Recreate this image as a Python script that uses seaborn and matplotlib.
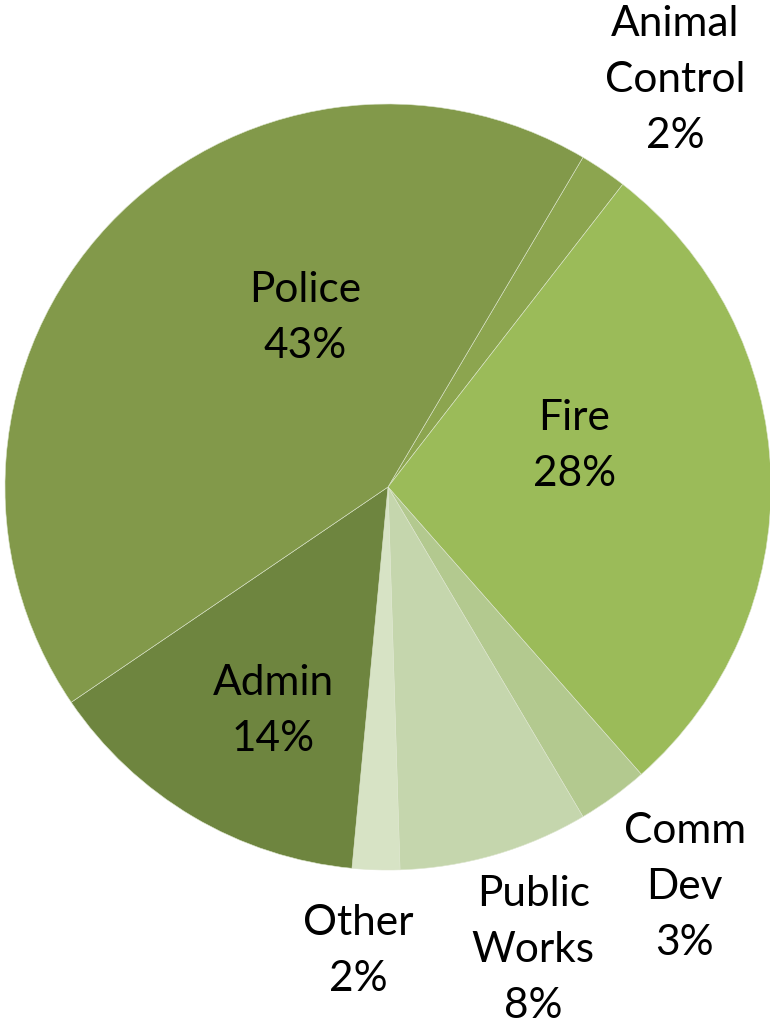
import matplotlib
matplotlib.use("Agg")
import matplotlib.pyplot as plt
import seaborn as sns

# Budget share by department (percent), in drawing order (clockwise)
departments = ["Animal\nControl", "Fire", "Comm\nDev", "Public\nWorks", "Other", "Admin", "Police"]
shares = [2, 28, 3, 8, 2, 14, 43]

# Olive-green shades for each department
colors = ["#8CA54F", "#9BBB59", "#B3C98F", "#C5D6AD", "#D7E3C5", "#6E853F", "#82994A"]

# Label anchor points in axis units (pie radius = 1)
label_xy = [(0.749, 1.063), (0.486, 0.107), (0.775, -1.045), (0.379, -1.210),
            (-0.078, -1.212), (-0.300, -0.586), (-0.217, 0.440)]

sns.set_theme(style="white")
plt.rcParams["font.family"] = ["Lato", "DejaVu Sans"]

W, H, DPI = 770, 1028, 100
fig = plt.figure(figsize=(W / DPI, H / DPI), dpi=DPI)
ax = fig.add_axes([0, 0, 1, 1])

cx, cy, r = 388, 487, 383
wedges, _ = ax.pie(
    shares,
    colors=colors,
    startangle=90 - 30.6,
    counterclock=False,
    radius=1.0,
    wedgeprops=dict(edgecolor="#DCE5CC", linewidth=0.4),
)

for name, val, (x, y) in zip(departments, shares, label_xy):
    ax.text(x, y, f"{name}\n{val}%", ha="center", va="center",
            fontsize=30.5, color="black", linespacing=1.58)

ax.set_xlim(-cx / r, (W - cx) / r)
ax.set_ylim(-(H - cy) / r, cy / r)
ax.set_aspect("equal")
ax.axis("off")

fig.savefig("out.png", dpi=DPI, facecolor="white")
